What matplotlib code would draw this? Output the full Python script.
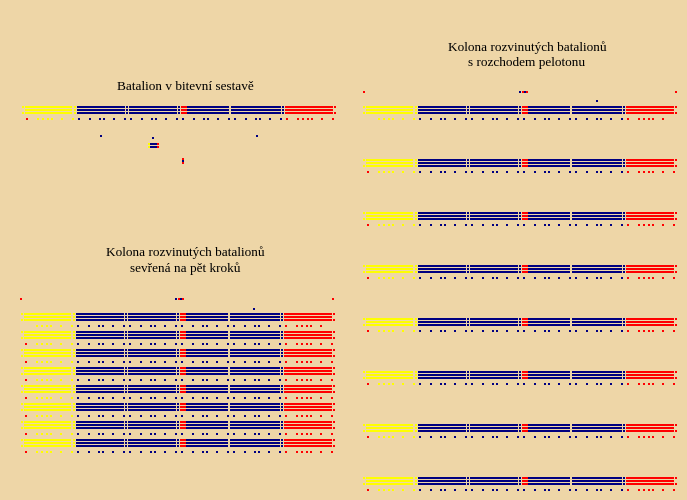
import matplotlib
matplotlib.use("Agg")
import matplotlib.pyplot as plt
from matplotlib.patches import Rectangle

BG = "#EED6A7"
YEL, BLU, RED = "#FFFF00", "#000080", "#FF0000"

# company bars: (start, end, colour) relative to battalion left end
bars = [(3, 50, YEL), (55, 103, BLU), (107, 155, BLU), (159, 165, RED),
        (165, 207, BLU), (211, 259, BLU), (263, 311, RED)]
# small separator squares: (offset, colour)
seps = [(0, YEL), (52, YEL), (104, BLU), (156, BLU), (209, BLU), (260, BLU), (312, RED)]
# NCO dots below the line: (offset, colour)
dots = [(4, RED)] + [(o, YEL) for o in [15, 20, 25, 29, 39, 50]] + \
       [(o, BLU) for o in [56, 67, 77, 81, 91, 102, 108, 119, 129, 133, 143, 154,
                           160, 171, 181, 185, 195, 206, 212, 223, 233, 237, 247, 258]] + \
       [(o, RED) for o in [264, 275, 280, 285, 289, 299, 310]]
line_dy = [0, 3, 6]

battle_row = (22, 106)
column_left = [(21, 313 + 18 * i) for i in range(8)]
column_right = [(363, 106 + 53 * i) for i in range(8)]

# officers / staff markers: (x, y, w, h, colour)
staff = [(100, 135, 2, 2, BLU), (152, 137, 2, 2, BLU), (256, 135, 2, 2, BLU),
         (148, 143, 2, 2, YEL), (150, 143, 7, 2, BLU), (157, 143, 2, 2, RED),
         (148, 146, 2, 2, YEL), (150, 146, 7, 2, BLU), (157, 146, 2, 2, RED),
         (182, 158, 2, 2, RED), (182, 160, 2, 2, BLU), (182, 162, 2, 2, RED),
         (20, 298, 2, 2, RED), (332, 298, 2, 2, RED), (175, 298, 2, 2, BLU),
         (178, 298, 2, 2, RED), (180, 298, 2, 2, BLU), (182, 298, 2, 2, RED),
         (253, 308, 2, 2, BLU),
         (363, 91, 2, 2, RED), (675, 91, 2, 2, RED), (519, 91, 2, 2, BLU),
         (522, 91, 2, 2, RED), (524, 91, 2, 2, BLU), (526, 91, 2, 2, RED),
         (596, 100, 2, 2, BLU)]

titles = [(185, 87, "Batalion v bitevní sestavě"),
          (185, 261, "Kolona rozvinutých batalionů\nsevřená na pět kroků"),
          (527, 55, "Kolona rozvinutých batalionů\ns rozchodem pelotonu")]

fig = plt.figure(figsize=(6.87, 5.0), dpi=100)
fig.patch.set_facecolor(BG)
ax = fig.add_axes([0, 0, 1, 1])
ax.set_xlim(0, 687)
ax.set_ylim(500, 0)
ax.axis("off")
ax.set_facecolor(BG)

def rect(x, y, w, h, c):
    ax.add_patch(Rectangle((x, y), w, h, facecolor=c, edgecolor="none",
                           antialiased=False))

def battalion(x0, y, first=False):
    for dy in line_dy:
        for s, e, c in bars:
            rect(x0 + s, y + dy, e - s, 2, c)
        for o, c in seps:
            if dy == 3 and o in (0, 312):
                continue
            rect(x0 + o, y + dy, 2, 2, c)
    for o, c in dots:
        if first and o in (4, 310):
            continue
        rect(x0 + o, y + 12, 2, 2, c)

battalion(*battle_row)
for i, (x, y) in enumerate(column_left):
    battalion(x, y, first=(i == 0))
for i, (x, y) in enumerate(column_right):
    battalion(x, y, first=(i == 0))
for s in staff:
    rect(*s)
for x, y, t in titles:
    ax.text(x, y, t, ha="center", va="center", fontsize=9.5,
            family="Liberation Serif", linespacing=1.35)

fig.savefig("out.png", dpi=100, facecolor=BG)
